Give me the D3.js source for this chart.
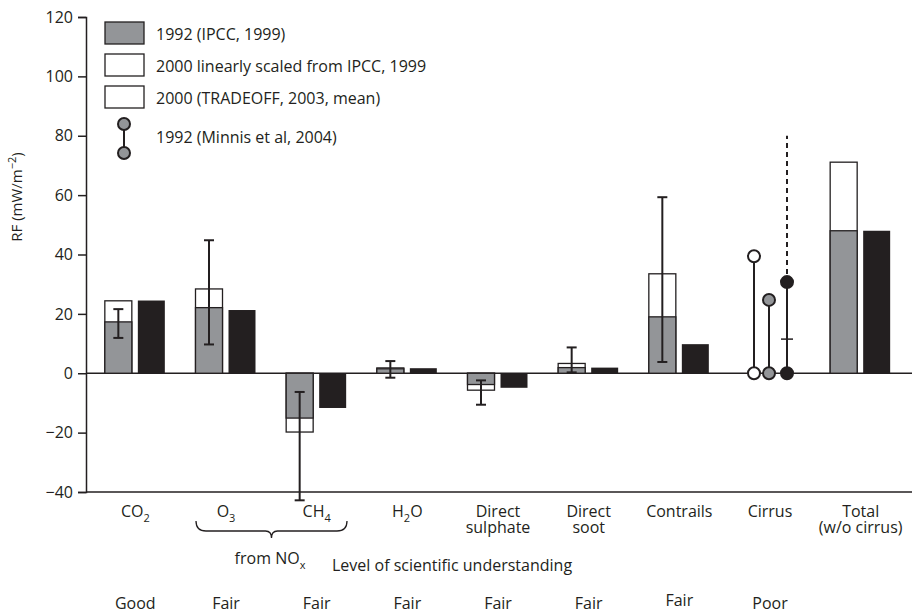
<!DOCTYPE html>
<html>
<head>
<meta charset="utf-8">
<script src="https://d3js.org/d3.v7.min.js"></script>
<style>
  body { margin: 0; background: #fff; }
  text { font-family: "Open Sans", sans-serif; fill: #231f20; }
</style>
</head>
<body>
<div id="chart"></div>
<script>
// chart data (mW/m2)
var categories = ["CO2", "O3", "CH4", "H2O", "Direct sulphate", "Direct soot", "Contrails", "Cirrus", "Total"];
var ipcc1992 = [17.3, 22.1, -15.1, 1.5, -3.8, 1.9, 19.0, null, 48.0];
var scaled2000 = [24.4, 28.4, -19.8, 1.8, -5.7, 3.3, 33.5, null, 71.1];
var tradeoff2000 = [24.5, 21.3, -11.7, 1.7, -4.9, 1.9, 9.8, null, 48.0];
var errLow = [11.9, 9.7, -42.8, -1.5, -10.6, 0.3, 3.8, null, null];
var errHigh = [21.6, 44.8, -6.3, 4.1, -2.4, 8.7, 59.3, null, null];
var cirrusMinnis = [39.4, 24.7, 30.7];
var cirrusUpper = 80;
var cirrusMark = 11.5;
var understanding = ["Good", "Fair", "Fair", "Fair", "Fair", "Fair", "Fair", "Poor", ""];
var yTicks = [-40, -20, 0, 20, 40, 60, 80, 100, 120];

var svgWidth = 914;
var svgHeight = 613;
var ink = "#231f20";
var grey = "#939598";

var svg = d3.select("#chart")
  .append("svg")
  .attr("width", svgWidth)
  .attr("height", svgHeight);

var xBand = d3.scaleBand()
  .domain(categories)
  .range([90, 906]);

var yLinear = d3.scaleLinear()
  .domain([-40, 120])
  .range([492, 17]);

function cx(c) { return xBand(c) + xBand.bandwidth() / 2; }

// y axis
var leftAxis = d3.axisLeft(yLinear)
  .tickValues(yTicks)
  .tickSize(8)
  .tickPadding(5)
  .tickFormat(d => d < 0 ? "\u2212" + Math.abs(d) : d);

var yAxis = svg.append("g")
  .attr("transform", "translate(86,0)")
  .call(leftAxis);
yAxis.select(".domain").attr("stroke", ink).attr("stroke-width", 1.5);
yAxis.selectAll(".tick line").attr("stroke", ink).attr("stroke-width", 1.5);
yAxis.selectAll(".tick text")
  .attr("font-size", "16px")
  .attr("font-family", "Open Sans")
  .attr("fill", ink);

// bottom axis line and zero line
svg.append("line")
  .attr("x1", 86).attr("x2", 912)
  .attr("y1", yLinear(-40)).attr("y2", yLinear(-40))
  .attr("stroke", ink).attr("stroke-width", 1.5);

svg.append("line")
  .attr("x1", 86).attr("x2", 912)
  .attr("y1", yLinear(0)).attr("y2", yLinear(0))
  .attr("stroke", ink).attr("stroke-width", 1.5);

// y label
var yLab = svg.append("text")
  .attr("transform", "translate(22," + 197 + ") rotate(-90)")
  .attr("text-anchor", "middle")
  .attr("font-size", "15px");
yLab.append("tspan").text("RF (mW/m");
yLab.append("tspan").attr("dy", -6).attr("font-size", "11px").text("\u22122");
yLab.append("tspan").attr("dy", 6).text(")");

var barW = 27;
var bars = categories.map((c, i) => ({
  cat: c, ipcc: ipcc1992[i], scaled: scaled2000[i], trade: tradeoff2000[i],
  lo: errLow[i], hi: errHigh[i]
})).filter(d => d.ipcc !== null);

function rectY(v) { return Math.min(yLinear(v), yLinear(0)); }
function rectH(v) { return Math.abs(yLinear(v) - yLinear(0)); }

// 2000 scaled (white, behind)
svg.selectAll(".scaled")
  .data(bars)
  .enter()
  .append("rect")
  .attr("class", "scaled")
  .attr("x", d => cx(d.cat) - 30.5)
  .attr("y", d => rectY(d.scaled))
  .attr("width", barW)
  .attr("height", d => rectH(d.scaled))
  .attr("fill", "#fff")
  .attr("stroke", ink)
  .attr("stroke-width", 1.3);

// 1992 IPCC (grey)
svg.selectAll(".ipcc")
  .data(bars)
  .enter()
  .append("rect")
  .attr("class", "ipcc")
  .attr("x", d => cx(d.cat) - 30.5)
  .attr("y", d => rectY(d.ipcc))
  .attr("width", barW)
  .attr("height", d => rectH(d.ipcc))
  .attr("fill", grey)
  .attr("stroke", ink)
  .attr("stroke-width", 1.3);

// TRADEOFF (black)
svg.selectAll(".trade")
  .data(bars)
  .enter()
  .append("rect")
  .attr("class", "trade")
  .attr("x", d => cx(d.cat) + 2.5)
  .attr("y", d => rectY(d.trade))
  .attr("width", barW)
  .attr("height", d => rectH(d.trade))
  .attr("fill", ink);

// error bars
var errs = bars.filter(d => d.lo !== null);
var errG = svg.selectAll(".err")
  .data(errs)
  .enter()
  .append("g")
  .attr("class", "err")
  .attr("stroke", ink)
  .attr("stroke-width", 2);
errG.append("line")
  .attr("x1", d => cx(d.cat) - 17).attr("x2", d => cx(d.cat) - 17)
  .attr("y1", d => yLinear(d.lo)).attr("y2", d => yLinear(d.hi));
errG.append("line")
  .attr("x1", d => cx(d.cat) - 22).attr("x2", d => cx(d.cat) - 12)
  .attr("y1", d => yLinear(d.lo)).attr("y2", d => yLinear(d.lo));
errG.append("line")
  .attr("x1", d => cx(d.cat) - 22).attr("x2", d => cx(d.cat) - 12)
  .attr("y1", d => yLinear(d.hi)).attr("y2", d => yLinear(d.hi));

// cirrus lollipops
var lolliX = [-16, -1, 17];
var lolliFill = ["#fff", grey, ink];
var cirrusX = cx("Cirrus");

svg.append("line")
  .attr("x1", cirrusX + lolliX[2]).attr("x2", cirrusX + lolliX[2])
  .attr("y1", yLinear(cirrusMinnis[2]) - 8).attr("y2", yLinear(cirrusUpper))
  .attr("stroke", ink).attr("stroke-width", 2)
  .attr("stroke-dasharray", "5,4");
svg.append("line")
  .attr("x1", cirrusX + lolliX[2] - 6).attr("x2", cirrusX + lolliX[2] + 6)
  .attr("y1", yLinear(cirrusMark)).attr("y2", yLinear(cirrusMark))
  .attr("stroke", ink).attr("stroke-width", 1.5);

var lolli = svg.selectAll(".lolli")
  .data(cirrusMinnis)
  .enter()
  .append("g")
  .attr("class", "lolli");
lolli.append("line")
  .attr("x1", (d, i) => cirrusX + lolliX[i]).attr("x2", (d, i) => cirrusX + lolliX[i])
  .attr("y1", yLinear(0)).attr("y2", d => yLinear(d))
  .attr("stroke", ink).attr("stroke-width", 2);
lolli.append("circle")
  .attr("cx", (d, i) => cirrusX + lolliX[i]).attr("cy", d => yLinear(d))
  .attr("r", 6)
  .attr("fill", (d, i) => lolliFill[i]).attr("stroke", ink).attr("stroke-width", 2);
lolli.append("circle")
  .attr("cx", (d, i) => cirrusX + lolliX[i]).attr("cy", yLinear(0))
  .attr("r", 6)
  .attr("fill", (d, i) => lolliFill[i]).attr("stroke", ink).attr("stroke-width", 2);

// category labels
function chem(sel, base, sub, after) {
  sel.append("tspan").text(base);
  sel.append("tspan").attr("dy", 5).attr("font-size", "11px").text(sub);
  if (after) sel.append("tspan").attr("dy", -5).text(after);
}
var labelY = 517;
var labels = svg.append("g").attr("font-size", "16px").attr("text-anchor", "middle");
chem(labels.append("text").attr("x", cx("CO2")).attr("y", labelY), "CO", "2");
chem(labels.append("text").attr("x", cx("O3")).attr("y", labelY), "O", "3");
chem(labels.append("text").attr("x", cx("CH4")).attr("y", labelY), "CH", "4");
chem(labels.append("text").attr("x", cx("H2O")).attr("y", labelY), "H", "2", "O");
[["Direct sulphate", "Direct", "sulphate"], ["Direct soot", "Direct", "soot"], ["Total", "Total", "(w/o cirrus)"]]
  .forEach(function(p) {
    var t = labels.append("text").attr("y", labelY);
    t.append("tspan").attr("x", cx(p[0])).text(p[1]);
    t.append("tspan").attr("x", cx(p[0])).attr("dy", 16).text(p[2]);
  });
labels.append("text").attr("x", cx("Contrails")).attr("y", labelY).text("Contrails");
labels.append("text").attr("x", cx("Cirrus")).attr("y", labelY).text("Cirrus");

// brace under O3 / CH4
var bx1 = 196, bx2 = 347, bm = (bx1 + bx2) / 2, by = 521;
svg.append("path")
  .attr("d", "M" + bx1 + "," + by + " q0,10 10,10 L" + (bm - 6) + "," + (by + 10) +
    " q6,0 6,7 q0,-7 6,-7 L" + (bx2 - 10) + "," + (by + 10) + " q10,0 10,-10")
  .attr("fill", "none").attr("stroke", ink).attr("stroke-width", 1.3);

var nox = svg.append("text").attr("x", 270).attr("y", 564)
  .attr("text-anchor", "middle").attr("font-size", "16px");
chem(nox, "from NO", "x");

svg.append("text").attr("x", 332).attr("y", 571)
  .attr("font-size", "16px")
  .text("Level of scientific understanding");

svg.append("g").selectAll("text")
  .data(understanding)
  .enter()
  .append("text")
  .attr("x", (d, i) => cx(categories[i]))
  .attr("y", (d, i) => i === 6 ? 606 : 609)
  .attr("text-anchor", "middle")
  .attr("font-size", "16px")
  .text(d => d);

// legend
var legend = svg.append("g");
var legendRows = [
  { y: 22, fill: grey, label: "1992 (IPCC, 1999)" },
  { y: 54, fill: "#fff", label: "2000 linearly scaled from IPCC, 1999" },
  { y: 86, fill: "#fff", label: "2000 (TRADEOFF, 2003, mean)" }
];
legendRows.forEach(function(r) {
  legend.append("rect")
    .attr("x", 105).attr("y", r.y).attr("width", 39).attr("height", 22)
    .attr("fill", r.fill).attr("stroke", ink).attr("stroke-width", 1.3);
  legend.append("text")
    .attr("x", 156).attr("y", r.y + 18)
    .attr("font-size", "16px")
    .text(r.label);
});
legend.append("line")
  .attr("x1", 124).attr("x2", 124).attr("y1", 124).attr("y2", 153)
  .attr("stroke", ink).attr("stroke-width", 2);
[124, 153].forEach(function(y) {
  legend.append("circle")
    .attr("cx", 124).attr("cy", y).attr("r", 6)
    .attr("fill", grey).attr("stroke", ink).attr("stroke-width", 2);
});
legend.append("text")
  .attr("x", 156).attr("y", 143)
  .attr("font-size", "16px")
  .text("1992 (Minnis et al, 2004)");
</script>
</body>
</html>
